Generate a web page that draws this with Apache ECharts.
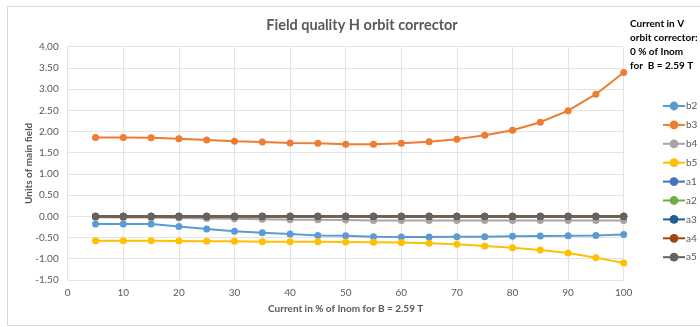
<!DOCTYPE html>
<html><head><meta charset="utf-8">
<script src="https://cdn.jsdelivr.net/npm/echarts@6/dist/echarts.min.js"></script>
<style>html,body{margin:0;padding:0;background:#fff}#c{width:700px;height:327px}</style>
</head><body><div id="c"></div>
<script>
const xValues = [5,10,15,20,25,30,35,40,45,50,55,60,65,70,75,80,85,90,95,100];
const b2 = [-0.18,-0.18,-0.18,-0.24,-0.30,-0.35,-0.39,-0.42,-0.45,-0.46,-0.48,-0.49,-0.49,-0.48,-0.48,-0.47,-0.465,-0.46,-0.45,-0.43];
const b3 = [1.86,1.86,1.85,1.83,1.80,1.77,1.75,1.73,1.72,1.70,1.70,1.72,1.76,1.82,1.91,2.03,2.22,2.49,2.88,3.39];
const b4 = [-0.02,-0.03,-0.03,-0.04,-0.05,-0.06,-0.07,-0.08,-0.08,-0.09,-0.10,-0.10,-0.10,-0.10,-0.10,-0.10,-0.10,-0.10,-0.10,-0.10];
const b5 = [-0.575,-0.575,-0.575,-0.58,-0.59,-0.59,-0.60,-0.60,-0.60,-0.605,-0.61,-0.62,-0.635,-0.66,-0.70,-0.74,-0.795,-0.865,-0.975,-1.10];
const a1 = [0,0,0,0,0,0,0,0,0,0,0,0,0,0,0,0,0,0,0,0];
const a2 = [0,0,0,0,0,0,0,0,0,0,0,0,0,0,0,0,0,0,0,0];
const a3 = [0,0,0,0,0,0,0,0,0,0,0,0,0,0,0,0,0,0,0,0];
const a4 = [-0.01,-0.01,-0.01,-0.01,-0.01,-0.01,-0.01,-0.01,-0.01,-0.01,-0.01,-0.01,-0.01,-0.01,-0.01,-0.01,-0.01,-0.01,-0.01,-0.01];
const a5 = [0,0,0,0,0,0,0,0,0,0,0,0,0,0,0,0,0,0,0,0];
const seriesNames = ['b2','b3','b4','b5','a1','a2','a3','a4','a5'];
const seriesData = [b2,b3,b4,b5,a1,a2,a3,a4,a5];
const colors = ['#5B9BD5','#ED7D31','#A5A5A5','#FFC000','#4472C4','#70AD47','#255E91','#9E480E','#636363'];
const titleText = 'Field quality H orbit corrector';
const xAxisName = 'Current in % of Inom for B = 2.59 T';
const yAxisName = 'Units of main field';
const noteLines = ['Current in V','orbit corrector:','0 % of Inom','for  B = 2.59 T'];

const chart = echarts.init(document.getElementById('c'), null, {renderer:'canvas'});
const font = 'Lato, "Open Sans", sans-serif';
chart.setOption({
  animation:false,
  color: colors,
  textStyle:{fontFamily:font},
  title:{text:titleText,left:357,top:13,textAlign:'center',
    textStyle:{fontSize:14.5,fontWeight:'bold',color:'#595959',fontFamily:font}},
  graphic:[
    {type:'rect',shape:{x:7.5,y:6.5,width:720,height:319},style:{fill:'none',stroke:'#D9D9D9',lineWidth:1},silent:true},
    {type:'text',left:630,top:17,style:{text:noteLines.join('\n'),font:'bold 10px '+font,fill:'#000',lineHeight:13.8}}
  ],
  legend:{
    orient:'vertical',left:662,top:101,padding:0,itemGap:8.9,itemWidth:22,itemHeight:11,
    data:seriesNames,
    textStyle:{fontSize:10,color:'#595959',padding:[0,0,0,-4]}
  },
  grid:{left:67.7,right:76.3,top:46.7,bottom:47.1,containLabel:false},
  xAxis:{type:'value',min:0,max:100,interval:10,
    name:xAxisName,nameLocation:'middle',nameGap:24,nameMoveOverlap:false,
    nameTextStyle:{fontSize:10,fontWeight:'bold',color:'#595959'},
    axisLine:{show:false},axisTick:{show:false},
    axisLabel:{fontSize:10,color:'#595959',margin:8},
    splitLine:{show:true,lineStyle:{color:'#E3E3E3',width:1}}},
  yAxis:{type:'value',min:-1.5,max:4,interval:0.5,
    name:yAxisName,nameLocation:'middle',nameGap:34,nameMoveOverlap:false,
    nameTextStyle:{fontSize:10,fontWeight:'bold',color:'#595959'},
    axisLine:{show:false},axisTick:{show:false},
    axisLabel:{fontSize:10,color:'#595959',margin:9,formatter:v=>v.toFixed(2)},
    splitLine:{show:true,lineStyle:{color:'#E3E3E3',width:1}}},
  series: seriesNames.map((n,i)=>({
    name:n,type:'line',
    data: xValues.map((x,j)=>[x,seriesData[i][j]]),
    symbol:'circle',symbolSize:7,
    lineStyle:{width:2,color:colors[i]},
    itemStyle:{color:colors[i]}
  }))
});
</script></body></html>
